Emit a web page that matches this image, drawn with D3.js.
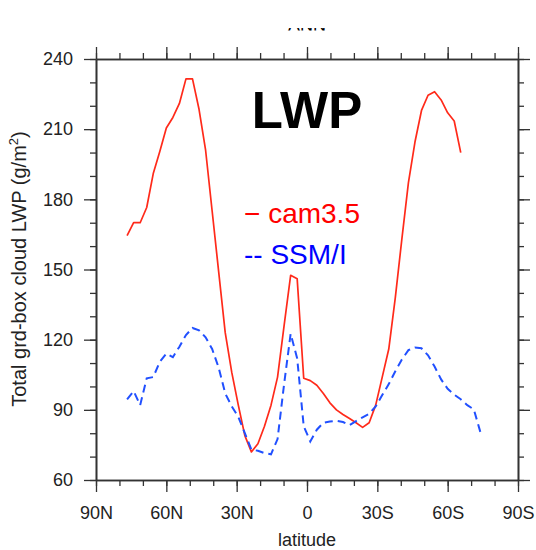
<!DOCTYPE html>
<html>
<head>
<meta charset="utf-8">
<script src="https://cdn.jsdelivr.net/npm/d3@7"></script>
<style>
  html, body { margin: 0; padding: 0; background: #fff; }
  svg { display: block; font-family: "Liberation Sans", Arial, Helvetica, sans-serif; }
</style>
</head>
<body>
<svg id="chart" width="536" height="550"></svg>
<script>
/* ── Data ────────────────────────────────────────────────────────── */
// Gaussian (T42) latitudes, north to south
const lats = [76.74, 73.95, 71.16, 68.37, 65.58, 62.79, 60.00, 57.21, 54.42, 51.63,
              48.84, 46.05, 43.25, 40.46, 37.67, 34.88, 32.09, 29.30, 26.51, 23.72,
              20.93, 18.14, 15.35, 12.56, 9.77, 6.98, 4.19, 1.40, -1.40, -4.19,
              -6.98, -9.77, -12.56, -15.35, -18.14, -20.93, -23.72, -26.51, -29.30, -32.09,
              -34.88, -37.67, -40.46, -43.25, -46.05, -48.84, -51.63, -54.42, -57.21, -60.00,
              -62.79, -65.58, -68.37, -71.16, -73.95];

// cam3.5 (ends at 65.58S)
const cam = [164.5, 170, 170, 176.5, 191, 200.5, 210.5, 215, 221, 231.5,
             231.5, 218.5, 201, 175, 149, 123, 106, 92, 79, 72,
             75.5, 83, 92, 104, 126, 147.5, 146, 103.5, 102.5, 100.5,
             97, 93, 90, 88, 86.3, 84.5, 82.5, 84.5, 92, 104,
             116, 138, 163, 187, 204.5, 218, 224.5, 226, 222.5, 217,
             213.5, 200];

// SSM/I
const ssmi = [94.5, 98, 92, 103.5, 104, 110.5, 114, 112.5, 117, 122,
              125, 124, 121, 116, 108, 97, 91.5, 87, 80, 73,
              72.5, 71.5, 71, 77.5, 101, 122.5, 112, 83, 76.5, 81.5,
              84.5, 85, 85.3, 84.8, 83.5, 85.2, 86.8, 88.3, 91.5, 96.3,
              101, 106.5, 111.5, 115.5, 116.6, 116.3, 113.3, 108.5, 103, 99,
              96.5, 94.5, 92, 90.2, 80.5];

const xTicks      = [90, 60, 30, 0, -30, -60, -90];
const xTickLabels = ['90N', '60N', '30N', '0', '30S', '60S', '90S'];
const yTicks      = [60, 90, 120, 150, 180, 210, 240];

/* ── Layout ──────────────────────────────────────────────────────── */
const L = 96, R = 518, T = 59, B = 480;
const FONT = '"Liberation Sans", Arial, Helvetica, sans-serif';
const AX_COL = '#333';

const svg = d3.select('#chart');

const x = d3.scaleLinear().domain([90, -90]).range([L, R]);
const y = d3.scaleLinear().domain([60, 240]).range([B, T]);

const minorX = d3.range(90, -91, -10);
const minorY = d3.range(60, 241, 10);

/* ── Axes: minor ticks first, then major with labels ─────────────── */
function styleAxis(g) {
  g.selectAll('path').attr('stroke', AX_COL).attr('stroke-width', 1.6);
  g.selectAll('line').attr('stroke', AX_COL).attr('stroke-width', 1.3);
  g.selectAll('text').attr('fill', '#222').attr('font-size', 18).attr('font-family', FONT);
}

function addAxis(axisFn, scale, minors, transform, majors, fmt, pad) {
  svg.append('g').attr('transform', transform)
    .call(axisFn(scale).tickValues(minors)
      .tickSize(6).tickSizeOuter(0).tickFormat(''))
    .call(styleAxis);
  svg.append('g').attr('transform', transform)
    .call(axisFn(scale).tickValues(majors)
      .tickSize(12).tickSizeOuter(0).tickPadding(pad).tickFormat(fmt))
    .call(styleAxis);
}

addAxis(d3.axisBottom, x, minorX, `translate(0,${B})`, xTicks, (d, i) => xTickLabels[i], 14);
addAxis(d3.axisTop,    x, minorX, `translate(0,${T})`, xTicks, () => '', 8);
addAxis(d3.axisLeft,   y, minorY, `translate(${L},0)`, yTicks, d => d, 11);
addAxis(d3.axisRight,  y, minorY, `translate(${R},0)`, yTicks, () => '', 8);

/* ── Lines ───────────────────────────────────────────────────────── */
const line = d3.line()
  .x(d => x(d[0]))
  .y(d => y(d[1]));

svg.append('path')
  .datum(lats.slice(0, cam.length).map((la, i) => [la, cam[i]]))
  .attr('fill', 'none')
  .attr('stroke', '#ff2a1a')
  .attr('stroke-width', 1.7)
  .attr('stroke-linejoin', 'round')
  .attr('d', line);

svg.append('path')
  .datum(lats.map((la, i) => [la, ssmi[i]]))
  .attr('fill', 'none')
  .attr('stroke', '#2150ff')
  .attr('stroke-width', 2)
  .attr('stroke-dasharray', '8,5')
  .attr('d', line);

/* ── Texts ───────────────────────────────────────────────────────── */
// clipped remnant of the main title at the very top
svg.append('clipPath').attr('id', 'topclip')
  .append('rect').attr('x', 0).attr('y', 28).attr('width', 536).attr('height', 2.5);
svg.append('text')
  .attr('clip-path', 'url(#topclip)')
  .attr('x', 307).attr('y', 30.5)
  .attr('text-anchor', 'middle')
  .attr('font-size', 18).attr('font-family', FONT)
  .text('ANN');

svg.append('text')
  .attr('x', 307).attr('y', 128)
  .attr('text-anchor', 'middle')
  .attr('font-size', 51).attr('font-weight', 'bold').attr('font-family', FONT)
  .attr('fill', '#000')
  .text('LWP');

svg.append('text')
  .attr('x', 244).attr('y', 223)
  .attr('font-size', 28).attr('font-family', FONT)
  .attr('fill', '#ff0000')
  .text('− cam3.5');

svg.append('text')
  .attr('x', 244).attr('y', 264)
  .attr('font-size', 28).attr('font-family', FONT)
  .attr('fill', '#0000ff')
  .text('-- SSM/I');

svg.append('text')
  .attr('x', (L + R) / 2).attr('y', 546)
  .attr('text-anchor', 'middle')
  .attr('font-size', 18).attr('font-family', FONT)
  .attr('fill', '#222')
  .text('latitude');

const yl = svg.append('text')
  .attr('transform', 'translate(26,269) rotate(-90)')
  .attr('text-anchor', 'middle')
  .attr('font-size', 20).attr('font-family', FONT)
  .attr('fill', '#222');
yl.append('tspan').text('Total grd-box cloud LWP (g/m');
yl.append('tspan').attr('dy', -8).attr('font-size', 13).text('2');
yl.append('tspan').attr('dy', 8).text(')');
</script>
</body>
</html>
